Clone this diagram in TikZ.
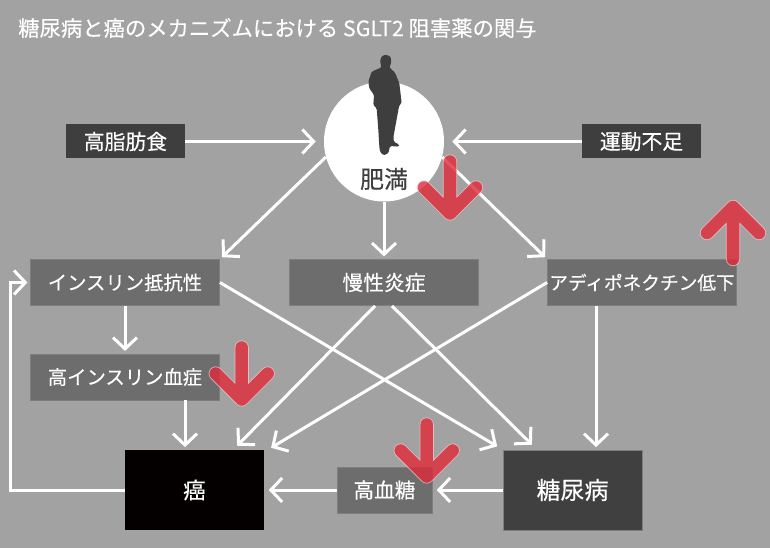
\documentclass[tikz,border=0pt]{standalone}
\usepackage{fontspec}
\usepackage{xcolor}
\setmainfont[FakeBold=0.3]{Noto Sans CJK JP}
\usetikzlibrary{positioning,arrows.meta}
\definecolor{bggray}{HTML}{A2A2A2}
\definecolor{boxgray}{HTML}{6D6D6D}
\definecolor{edgegray}{HTML}{7E7E7E}
\definecolor{darkbox}{HTML}{3E3E3E}
\definecolor{diabbox}{HTML}{404040}
\definecolor{cancerbox}{HTML}{040000}
\definecolor{redmark}{HTML}{E12A3A}
\definecolor{redline}{HTML}{F4C4CA}
\tikzset{
  causebox/.style={rectangle, fill=darkbox, text=white, font=\fontsize{15.6}{15.6}\selectfont, minimum width=89.25pt, minimum height=25.5pt, inner sep=0pt},
  midbox/.style={rectangle, draw=edgegray, line width=0.4pt, fill=boxgray, text=white, font=\fontsize{15.6}{15.6}\selectfont, minimum width=142pt, minimum height=34.75pt, inner sep=0pt},
  bigbox/.style={rectangle, text=white, minimum width=104pt, minimum height=60pt, inner sep=0pt},
  conn/.style={draw=white, line width=2.25pt, -{Straight Barb[length=8.5pt,width=18pt]}, shorten >=2pt},
  redstroke/.style={line cap=round, line join=round},
}
\newcommand{\redarrow}[3]{%
  \begin{scope}[transparency group, opacity=0.8]
    \draw[redstroke, redline, line width=10.6pt] (#1,{#2-52*#3}) -- (#1,#2) (#1-26,{#2-26*#3}) -- (#1,#2) -- (#1+26,{#2-26*#3});
    \draw[redstroke, redmark, line width=9.4pt] (#1,{#2-52*#3}) -- (#1,#2) (#1-26,{#2-26*#3}) -- (#1,#2) -- (#1+26,{#2-26*#3});
  \end{scope}}
\begin{document}
\begin{tikzpicture}[x=0.75pt, y=-0.75pt]
\fill[bggray] (0,0) rectangle (770,548);
\useasboundingbox (0,0) rectangle (770,548);
\node (title) [anchor=west, text=white, font=\fontsize{16}{16}\selectfont, inner sep=0pt] at (18,28) {糖尿病と癌のメカニズムにおける SGLT2 阻害薬の関与};

\node (obese) [circle, fill=white, minimum size=90pt, inner sep=0pt] at (384,141.5) {};
\node (obesetext) [text=darkbox, font=\fontsize{18}{18}\selectfont, inner sep=0pt] at (384,179) {肥満};
\node (highfat) [causebox] at (125.5,141.5) {高脂肪食};
\node (exercise) [causebox] at (641.5,141.5) {運動不足};

\node (insulin) [midbox, font=\fontsize{14.5}{14.5}\selectfont] at (125,282.5) {インスリン抵抗性};
\node (inflam) [midbox] at (384,282.5) {慢性炎症};
\node (adipo) [midbox, font=\fontsize{14}{14}\selectfont] at (642,282.5) {アディポネクチン低下};
\node (hyperins) [midbox, font=\fontsize{14.5}{14.5}\selectfont, below=35.75pt of insulin] {高インスリン血症};
\node (cancer) [bigbox, fill=cancerbox, font=\fontsize{17}{17}\selectfont] at (194.5,490) {癌};
\node (glucose) [midbox, font=\fontsize{15.5}{15.5}\selectfont, minimum width=71pt] at (384.5,490) {高血糖};
\node (diabetes) [bigbox, draw=edgegray, line width=0.4pt, fill=diabbox, font=\fontsize{18}{18}\selectfont] at (572.5,490) {糖尿病};

\fill[darkbox, rounded corners=1pt, shift={(300,50)}, x=0.25pt, y=-0.25pt]
  (245,18) -- (258,14) -- (272,20) -- (274,38) -- (268,52) -- (285,68) -- (298,100) -- (305,160) -- (298,165) -- (295,180) -- (280,262) -- (282,276) -- (298,284) -- (296,290) -- (270,288) -- (265,310) -- (250,316) -- (240,305) -- (238,290) -- (235,240) -- (230,175) -- (220,165) -- (222,135) -- (208,115) -- (205,95) -- (215,65) -- (245,52) -- (240,35) -- cycle;

\draw[conn, shorten >=6pt] (highfat.east) -- (obese.west);
\draw[conn, shorten >=6pt] (exercise.west) -- (obese.east);
\draw[conn] (obese.195) -- (insulin.north east);
\draw[conn] (obese.south) -- (inflam.north);
\draw[conn] (obese.-15) -- (adipo.north west);

\draw[conn] (insulin.south) -- (hyperins.north);
\draw[conn] ([shift={(60,0)}]hyperins.south) -- ([shift={(60,0)}]hyperins.south |- cancer.north);
\draw[conn, shorten >=5pt] (insulin.east) -- (diabetes.north west);
\draw[conn, shorten >=0pt] ([shift={(-9,0)}]inflam.south) -- ([shift={(-27,-4)}]cancer.north east);
\draw[conn, shorten >=0pt] ([shift={(8,0)}]inflam.south) -- ([shift={(29,-5)}]diabetes.north west);
\draw[conn, shorten >=0pt] (adipo.west) -- ([shift={(7,-2)}]cancer.north east);
\draw[conn] ([shift={(-46,0)}]adipo.south) -- ([shift={(-46,0)}]adipo.south |- diabetes.north);

\draw[conn, shorten >=3.5pt] (diabetes.west) -- (glucose.east);
\draw[conn, shorten >=3.5pt] (glucose.west) -- (cancer.east);
\coordinate (loop) at (10,490);
\draw[conn, miter limit=10] (cancer.west) -- (loop) |- (insulin.west);

\redarrow{450}{213.5}{1}
\redarrow{241.7}{399.5}{1}
\redarrow{426.7}{476.5}{1}
\redarrow{733}{207}{-1}
\end{tikzpicture}
\end{document}
